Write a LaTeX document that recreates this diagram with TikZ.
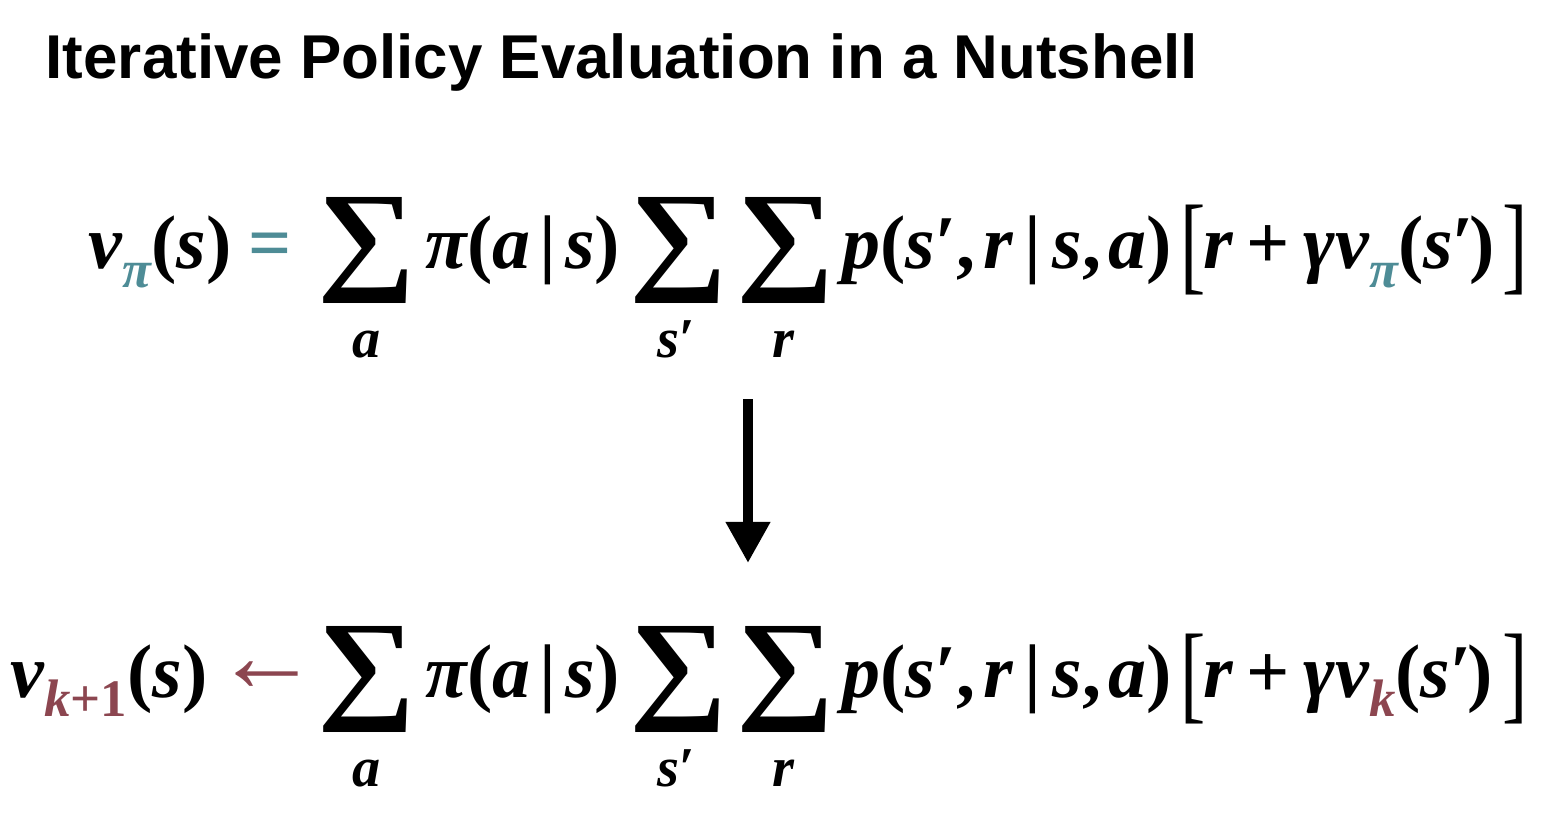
\documentclass[tikz,border=0pt]{standalone}
\usepackage{fontspec}
\usepackage{graphicx}
\setmainfont{Liberation Serif}
\newfontfamily\titlefont{Liberation Sans}
\usetikzlibrary{arrows.meta, positioning}

\definecolor{polteal}{RGB}{78,140,150}
\definecolor{itermaroon}{RGB}{140,70,80}

\newcommand{\eqf}{\fontsize{21.6pt}{26pt}\selectfont}
\newcommand{\subf}{\fontsize{15pt}{18pt}\selectfont}
\newcommand{\limf}{\fontsize{16pt}{19pt}\selectfont}
\newcommand{\mvar}[1]{{\bfseries\itshape #1}}
\newcommand{\mup}[1]{{\bfseries\upshape #1}}
\newcommand{\msub}[2]{\raisebox{-5.5pt}{\subf\color{#1}#2}}
\newcommand{\bigsum}{\resizebox*{0.98cm}{1.06cm}{\mup{∑}}}
\newcommand{\tallbrk}[1]{\resizebox*{\width}{0.9cm}{\upshape #1}}
\newcommand{\sprime}{\mvar{s}\mup{′}}
\newcommand{\gap}[1]{\hspace{#1em}}

\tikzset{
    eqpart/.style={inner sep=0pt, anchor=base west, font=\eqf},
    sumsym/.style={inner sep=0pt, anchor=center, font=\eqf},
    sublim/.style={inner sep=0pt, anchor=base, font=\limf},
    brk/.style={inner sep=0pt, anchor=west, font=\eqf},
    relarrow/.style={inner sep=0pt, anchor=west, font=\eqf}
}

\begin{document}
\begin{tikzpicture}[x=0.01cm, y=-0.01cm]
        \useasboundingbox[fill=white] (0,0) rectangle (1560,818);

        \node[anchor=base west, inner sep=0pt, font=\titlefont\bfseries\fontsize{17.6pt}{20pt}\selectfont] (title) at (45,78) {Iterative Policy Evaluation in a Nutshell};

        % left hand sides
        \node[eqpart] (lhs1) at (88,268) {\mvar{v}\msub{polteal}{\mvar{π}}\mup{(}\mvar{s}\mup{)}};
        \node[eqpart, text=polteal] (rel1) at (248,268) {\mup{=}};
        \node[eqpart] (lhs2) at (10,697) {\mvar{v}\msub{itermaroon}{\mvar{k}\mup{+1}}\mup{(}\mvar{s}\mup{)}};
        \node[relarrow, text=itermaroon] (rel2) at (214,677) {\resizebox{1.05cm}{!}{←}};

        % the shared body of both lines
        \foreach \y/\n in {268/1, 697/2} {
            \node[sumsym] (sumA\n) at (367,\y-18) {\bigsum};
            \node[sublim] (limA\n) at (367,\y+89) {\mvar{a}};
            \node[eqpart] (pol\n) at (425,\y) {\mvar{π}\mup{(}\mvar{a}\gap{0.12}\mup{|}\gap{0.12}\mvar{s}\mup{)}};
            \node[sumsym] (sumS\n) at (679,\y-18) {\bigsum};
            \node[sublim] (limS\n) at (676,\y+89) {\sprime};
            \node[sumsym] (sumR\n) at (786,\y-18) {\bigsum};
            \node[sublim] (limR\n) at (783,\y+89) {\mvar{r}};
            \node[eqpart] (trans\n) at (842,\y) {\mvar{p}\mup{(}\sprime\mup{,}\gap{0.1}\mvar{r}\gap{0.15}\mup{|}\gap{0.15}\mvar{s}\mup{,}\gap{0.1}\mvar{a}\mup{)}};
            \node[brk] (lbr\n) at (1180,\y-18) {\tallbrk{[}};
            \node[brk] (rbr\n) at (1502,\y-18) {\tallbrk{]}};
        }

        % bracket contents
        \node[eqpart] (ret1) at (1203,268) {\mvar{r}\gap{0.18}\mup{+}\gap{0.18}\mvar{γv}\msub{polteal}{\mvar{π}}\mup{(}\sprime\gap{-0.06}\mup{)}};
        \node[eqpart] (ret2) at (1203,697) {\mvar{r}\gap{0.18}\mup{+}\gap{0.18}\mvar{γv}\msub{itermaroon}{\mvar{k}}\mup{(}\sprime\gap{-0.06}\mup{)}};

        % update arrow
        \coordinate (arrtop) at (748,399);
        \coordinate (arrtip) at (748,563);
        \draw[line width=0.1cm, -{Triangle[width=0.42cm, length=0.41cm]}] (arrtop) -- (arrtip);
\end{tikzpicture}
\end{document}
